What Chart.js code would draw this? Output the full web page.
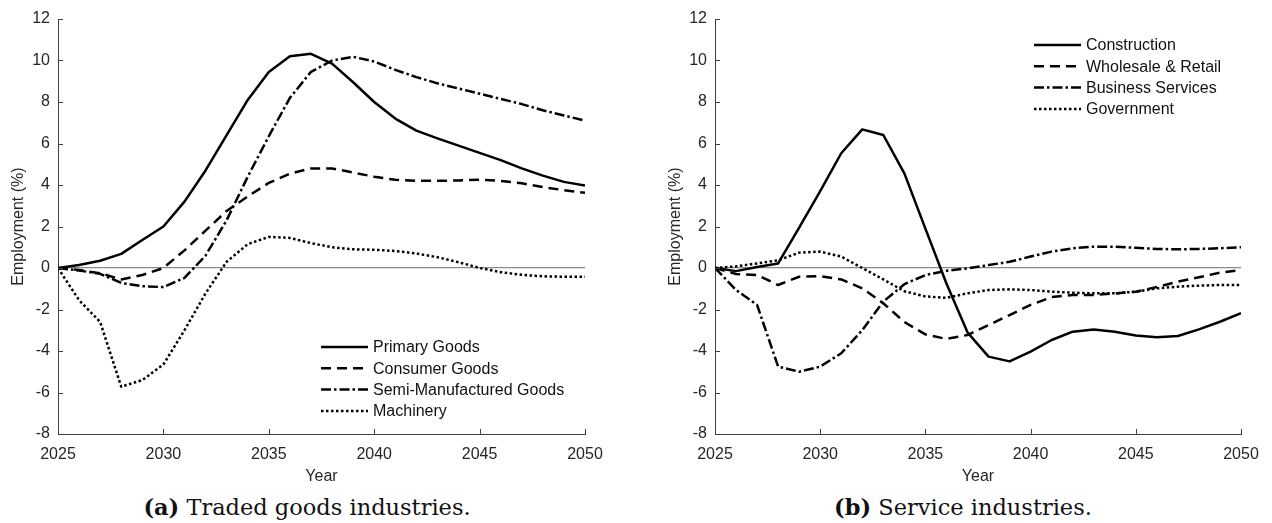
<!DOCTYPE html>
<html>
<head>
<meta charset="utf-8">
<script src="https://cdn.jsdelivr.net/npm/chart.js@4/dist/chart.umd.min.js"></script>
<style>
  html, body { margin: 0; padding: 0; background: #ffffff; }
  body { width: 1272px; height: 523px; position: relative; overflow: hidden; }
  canvas { position: absolute; top: 0; }
  #panelA { left: 0; }
  #panelB { left: 636px; }
  .caption {
    position: absolute; width: 420px; text-align: center;
    font-family: "DejaVu Serif", "Liberation Serif", serif;
    font-size: 22.5px; line-height: 22.5px; color: #111111; white-space: nowrap;
  }
  .caption b { font-weight: bold; }
</style>
</head>
<body>
<canvas id="panelA" width="636" height="486"></canvas>
<canvas id="panelB" width="636" height="486"></canvas>
<div class="caption" style="left:97px; top:496px;"><b>(a)</b> Traded goods industries.</div>
<div class="caption" style="left:753px; top:496px;"><b>(b)</b> Service industries.</div>
<script>
// Years on the horizontal axis
const years = [2025, 2026, 2027, 2028, 2029, 2030, 2031, 2032, 2033, 2034, 2035, 2036, 2037,
               2038, 2039, 2040, 2041, 2042, 2043, 2044, 2045, 2046, 2047, 2048, 2049, 2050];
const yearTicks = [2025, 2030, 2035, 2040, 2045, 2050];
const employmentTicks = [-8, -6, -4, -2, 0, 2, 4, 6, 8, 10, 12];

// (a) Traded goods industries, employment change (%)
const primaryGoods = [0, 0.14, 0.35, 0.68, 1.35, 2.0, 3.2, 4.7, 6.4, 8.1, 9.45, 10.2, 10.32,
                      9.85, 8.95, 8.0, 7.2, 6.62, 6.25, 5.9, 5.55, 5.2, 4.8, 4.45, 4.15, 3.97];
const consumerGoods = [0, -0.1, -0.25, -0.55, -0.34, 0.0, 0.85, 1.8, 2.75, 3.45, 4.1, 4.55, 4.8,
                       4.8, 4.6, 4.4, 4.25, 4.2, 4.2, 4.22, 4.25, 4.2, 4.08, 3.9, 3.75, 3.62];
const semiManufactured = [0, -0.12, -0.28, -0.72, -0.88, -0.92, -0.48, 0.6, 2.3, 4.4, 6.35, 8.2, 9.45,
                          10.0, 10.18, 9.95, 9.55, 9.2, 8.9, 8.65, 8.4, 8.15, 7.9, 7.6, 7.35, 7.1];
const machinery = [0, -1.55, -2.6, -5.72, -5.4, -4.65, -3.0, -1.22, 0.3, 1.15, 1.5, 1.45, 1.2,
                   1.0, 0.9, 0.88, 0.82, 0.7, 0.52, 0.28, 0.0, -0.2, -0.33, -0.4, -0.42, -0.42];

// (b) Service industries, employment change (%)
const construction = [0, -0.15, 0.05, 0.22, 1.95, 3.7, 5.53, 6.68, 6.41, 4.56, 1.9, -0.75, -3.1,
                      -4.27, -4.5, -4.03, -3.47, -3.07, -2.96, -3.07, -3.25, -3.34, -3.28, -2.96, -2.59, -2.18];
const wholesaleRetail = [0, -0.29, -0.34, -0.82, -0.42, -0.39, -0.55, -0.98, -1.7, -2.6, -3.2, -3.42, -3.23,
                         -2.75, -2.27, -1.78, -1.4, -1.3, -1.3, -1.23, -1.14, -0.92, -0.66, -0.45, -0.22, -0.1];
const businessServices = [0, -1.06, -1.78, -4.75, -5.0, -4.75, -4.11, -2.99, -1.62, -0.78, -0.34, -0.13, -0.02,
                          0.14, 0.3, 0.55, 0.79, 0.95, 1.03, 1.03, 0.97, 0.92, 0.9, 0.92, 0.95, 1.0];
const government = [0, 0.08, 0.22, 0.37, 0.74, 0.79, 0.55, 0.0, -0.55, -1.12, -1.37, -1.44, -1.22,
                    -1.06, -1.03, -1.06, -1.14, -1.19, -1.22, -1.22, -1.14, -0.98, -0.9, -0.85, -0.82, -0.82];

const INK = '#262626';
const FONT_FAMILY = '"Liberation Sans", Arial, Helvetica, sans-serif';
const AXIS_FONT = { family: FONT_FAMILY, size: 16 };
const LINE_W = 2.5;
const STYLES = {
  solid:   [],
  dashed:  [10, 6],
  dashdot: [10, 3, 2.5, 3],
  dotted:  [2.5, 2.5]
};

Chart.defaults.font.family = FONT_FAMILY;
Chart.defaults.font.size = 16;
Chart.defaults.color = INK;

function series(label, values, style) {
  return {
    label,
    data: years.map((yr, i) => ({ x: yr, y: values[i] })),
    borderColor: '#000000',
    borderWidth: LINE_W,
    borderDash: STYLES[style],
    borderCapStyle: 'butt',
    borderJoinStyle: 'round',
    pointRadius: 0,
    tension: 0,
    fill: false
  };
}

// Inward-pointing tick marks on the left and bottom axes
const inwardTicks = {
  id: 'inwardTicks',
  afterDraw(chart) {
    const { ctx, chartArea, scales } = chart;
    const len = 5;
    ctx.save();
    ctx.strokeStyle = '#404040';
    ctx.lineWidth = 1;
    ctx.beginPath();
    scales.y.ticks.forEach(t => {
      const py = Math.round(scales.y.getPixelForValue(t.value)) + 0.5;
      ctx.moveTo(chartArea.left, py);
      ctx.lineTo(chartArea.left + len, py);
    });
    scales.x.ticks.forEach(t => {
      const px = Math.round(scales.x.getPixelForValue(t.value)) + 0.5;
      ctx.moveTo(px, chartArea.bottom);
      ctx.lineTo(px, chartArea.bottom - len);
    });
    ctx.stroke();
    ctx.restore();
  }
};

// Key with line samples drawn in each dataset's own stroke style
const lineKey = {
  id: 'lineKey',
  afterDraw(chart, args, opts) {
    const { ctx } = chart;
    ctx.save();
    ctx.font = '16px ' + FONT_FAMILY;
    ctx.textBaseline = 'middle';
    ctx.textAlign = 'left';
    chart.data.datasets.forEach((ds, i) => {
      const y = opts.y + i * opts.row;
      ctx.beginPath();
      ctx.setLineDash(ds.borderDash || []);
      ctx.lineWidth = ds.borderWidth;
      ctx.strokeStyle = ds.borderColor;
      ctx.lineCap = 'butt';
      ctx.moveTo(opts.x, y);
      ctx.lineTo(opts.x + opts.sample, y);
      ctx.stroke();
      ctx.setLineDash([]);
      ctx.fillStyle = '#111111';
      ctx.fillText(ds.label, opts.x + opts.sample + opts.gap, y + 1);
    });
    ctx.restore();
  }
};

function makePanel(canvasId, datasets, frame, key) {
  return new Chart(document.getElementById(canvasId), {
    type: 'line',
    data: { datasets },
    plugins: [inwardTicks, lineKey],
    options: {
      responsive: false,
      devicePixelRatio: 1,
      animation: false,
      layout: { padding: { top: 19, right: frame.right, bottom: 0, left: 0 } },
      plugins: {
        legend: { display: false },
        tooltip: { enabled: false },
        lineKey: key
      },
      scales: {
        x: {
          type: 'linear',
          min: years[0],
          max: years[years.length - 1],
          afterBuildTicks: s => { s.ticks = yearTicks.map(v => ({ value: v })); },
          afterFit: s => { s.height = 52; },
          ticks: { padding: 11, maxRotation: 0, autoSkip: false, callback: v => String(v), color: INK, font: AXIS_FONT },
          grid: { display: false, drawTicks: false },
          border: { display: true, color: '#404040', width: 1 },
          title: { display: true, text: 'Year', color: INK, font: AXIS_FONT, padding: { top: 0, bottom: 0 } }
        },
        y: {
          min: employmentTicks[0],
          max: employmentTicks[employmentTicks.length - 1],
          afterBuildTicks: s => { s.ticks = employmentTicks.map(v => ({ value: v })); },
          afterFit: s => { s.width = frame.left; },
          ticks: { padding: 8, autoSkip: false, color: INK, font: AXIS_FONT },
          grid: {
            drawTicks: false,
            drawOnChartArea: true,
            color: c => (c.tick && c.tick.value === 0) ? '#8a8a8a' : 'rgba(0,0,0,0)',
            lineWidth: 1.2
          },
          border: { display: true, color: '#404040', width: 1 },
          title: { display: true, text: 'Employment (%)', color: INK, font: AXIS_FONT, padding: { top: frame.titleGap, bottom: 0 } }
        }
      }
    }
  });
}

makePanel('panelA', [
  series('Primary Goods', primaryGoods, 'solid'),
  series('Consumer Goods', consumerGoods, 'dashed'),
  series('Semi-Manufactured Goods', semiManufactured, 'dashdot'),
  series('Machinery', machinery, 'dotted')
], { left: 58, right: 51, titleGap: 9 }, { x: 321, y: 347, row: 21.3, sample: 47, gap: 5 });

makePanel('panelB', [
  series('Construction', construction, 'solid'),
  series('Wholesale & Retail', wholesaleRetail, 'dashed'),
  series('Business Services', businessServices, 'dashdot'),
  series('Government', government, 'dotted')
], { left: 79, right: 31, titleGap: 29.5 }, { x: 398, y: 45, row: 21.3, sample: 47, gap: 5 });
</script>
</body>
</html>
